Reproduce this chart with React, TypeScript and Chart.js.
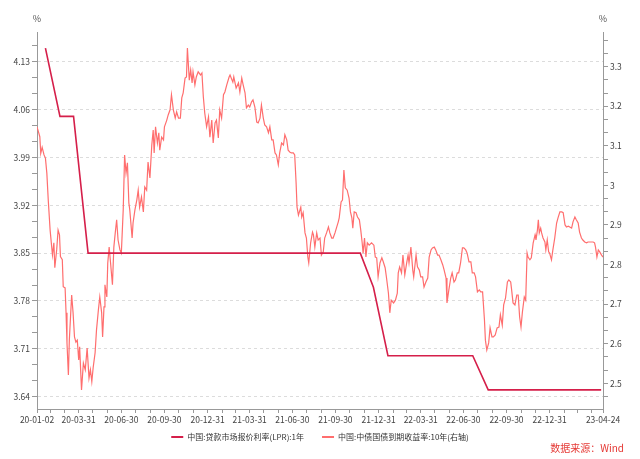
import React, { useEffect, useRef } from "react";
import { Chart, registerables } from "chart.js";

Chart.register(...registerables);

const FONT = '"Noto Sans CJK SC", "Noto Sans", sans-serif';

const START_DATE = "20-01-02";
const END_DATE = "23-04-24";
const SOURCE_TEXT = "数据来源：Wind";
const UNIT = "%";

const LPR_LABEL = "中国:贷款市场报价利率(LPR):1年";
const CGB_LABEL = "中国:中债国债到期收益率:10年(右轴)";
const LPR_COLOR = "#D51F4A";
const CGB_COLOR = "#FF6E6E";

const X_LABEL_DATES = [
  "20-01-02", "20-03-31", "20-06-30", "20-09-30", "20-12-31", "21-03-31", "21-06-30",
  "21-09-30", "21-12-31", "22-03-31", "22-06-30", "22-09-30", "22-12-31", "23-04-24",
];

const LEFT_MAJOR_TICKS = [3.64, 3.71, 3.78, 3.85, 3.92, 3.99, 4.06, 4.13];
const RIGHT_MAJOR_TICKS = [2.5, 2.6, 2.7, 2.8, 2.9, 3.0, 3.1, 3.2, 3.3];
const LEFT_MIN = 3.622;
const LEFT_MAX = 4.1735;
const RIGHT_MIN = 2.435;
const RIGHT_MAX = 3.3876;

const LPR_DATES = [
  "20-01-20", "20-02-20", "20-03-20", "20-04-20", "20-05-20", "20-06-22", "20-07-20", "20-08-20",
  "20-09-21", "20-10-20", "20-11-20", "20-12-21", "21-01-20", "21-02-20", "21-03-22", "21-04-20",
  "21-05-20", "21-06-21", "21-07-20", "21-08-20", "21-09-22", "21-10-20", "21-11-22", "21-12-20",
  "22-01-20", "22-02-21", "22-03-21", "22-04-20", "22-05-20", "22-06-20", "22-07-20", "22-08-22",
  "22-09-20", "22-10-20", "22-11-21", "22-12-20", "23-01-20", "23-02-20", "23-03-20", "23-04-20",
];
const LPR_VALUES = [
  4.15, 4.05, 4.05, 3.85, 3.85, 3.85, 3.85, 3.85,
  3.85, 3.85, 3.85, 3.85, 3.85, 3.85, 3.85, 3.85,
  3.85, 3.85, 3.85, 3.85, 3.85, 3.85, 3.85, 3.80,
  3.70, 3.70, 3.70, 3.70, 3.70, 3.70, 3.70, 3.65,
  3.65, 3.65, 3.65, 3.65, 3.65, 3.65, 3.65, 3.65,
];

const CGB_DATES = [
  "20-01-02","20-01-05","20-01-08","20-01-10","20-01-13","20-01-17","20-01-20","20-01-23","20-01-26","20-01-30",
  "20-02-02","20-02-04","20-02-07","20-02-09","20-02-13","20-02-16","20-02-19","20-02-21","20-02-25","20-02-27",
  "20-03-02","20-03-04","20-03-06","20-03-09","20-03-11","20-03-14","20-03-16","20-03-19","20-03-22","20-03-25",
  "20-03-28","20-03-31","20-04-02","20-04-06","20-04-10","20-04-14","20-04-18","20-04-22","20-04-25","20-04-28",
  "20-05-01","20-05-05","20-05-08","20-05-12","20-05-15","20-05-19","20-05-21","20-05-24","20-05-26","20-05-30",
  "20-06-01","20-06-04","20-06-07","20-06-11","20-06-14","20-06-17","20-06-20","20-06-23","20-06-27","20-06-30",
  "20-07-04","20-07-07","20-07-10","20-07-13","20-07-16","20-07-18","20-07-23","20-07-25","20-07-29","20-08-02",
  "20-08-05","20-08-08","20-08-12","20-08-16","20-08-19","20-08-23","20-08-26","20-08-30","20-09-03","20-09-06",
  "20-09-08","20-09-11","20-09-15","20-09-18","20-09-20","20-09-24","20-09-28","20-09-30","20-10-05","20-10-08",
  "20-10-12","20-10-15","20-10-19","20-10-23","20-10-26","20-10-30","20-11-03","20-11-06","20-11-09","20-11-13",
  "20-11-16","20-11-18","20-11-22","20-11-25","20-11-28","20-11-30","20-12-04","20-12-07","20-12-11","20-12-16",
  "20-12-19","20-12-22","20-12-25","20-12-29","21-01-02","21-01-05","21-01-09","21-01-12","21-01-16","21-01-19",
  "21-01-23","21-01-26","21-01-30","21-02-03","21-02-06","21-02-10","21-02-15","21-02-17","21-02-23","21-02-25",
  "21-03-02","21-03-07","21-03-10","21-03-14","21-03-17","21-03-21","21-03-24","21-03-28","21-03-31","21-04-04",
  "21-04-07","21-04-11","21-04-15","21-04-18","21-04-22","21-04-25","21-04-29","21-05-02","21-05-06","21-05-10",
  "21-05-13","21-05-17","21-05-20","21-05-24","21-05-27","21-05-31","21-06-03","21-06-07","21-06-11","21-06-14",
  "21-06-18","21-06-21","21-06-25","21-06-28","21-07-02","21-07-05","21-07-08","21-07-10","21-07-13","21-07-18",
  "21-07-20","21-07-23","21-07-27","21-07-30","21-08-02","21-08-04","21-08-08","21-08-12","21-08-14","21-08-17",
  "21-08-21","21-08-24","21-08-28","21-08-31","21-09-04","21-09-07","21-09-11","21-09-15","21-09-18","21-09-22",
  "21-09-25","21-09-29","21-10-02","21-10-06","21-10-08","21-10-12","21-10-15","21-10-18","21-10-21","21-10-25",
  "21-10-29","21-11-01","21-11-04","21-11-06","21-11-09","21-11-13","21-11-16","21-11-20","21-11-23","21-11-26",
  "21-11-28","21-12-01","21-12-04","21-12-07","21-12-11","21-12-16","21-12-21","21-12-24","21-12-27","21-12-30",
  "22-01-03","22-01-07","22-01-10","22-01-14","22-01-17","22-01-21","22-01-24","22-01-27","22-02-01","22-02-05",
  "22-02-09","22-02-11","22-02-14","22-02-18","22-02-21","22-02-25","22-03-01","22-03-04","22-03-06","22-03-10",
  "22-03-14","22-03-16","22-03-21","22-03-24","22-03-28","22-03-31","22-04-04","22-04-07","22-04-11","22-04-15",
  "22-04-18","22-04-22","22-04-25","22-04-29","22-05-02","22-05-06","22-05-09","22-05-13","22-05-17","22-05-20",
  "22-05-24","22-05-26","22-05-30","22-06-03","22-06-06","22-06-10","22-06-13","22-06-17","22-06-20","22-06-24",
  "22-06-28","22-07-01","22-07-05","22-07-08","22-07-12","22-07-16","22-07-19","22-07-23","22-07-26","22-07-30",
  "22-08-03","22-08-06","22-08-10","22-08-14","22-08-16","22-08-19","22-08-23","22-08-26","22-08-30","22-09-02",
  "22-09-06","22-09-10","22-09-14","22-09-17","22-09-21","22-09-24","22-09-28","22-10-02","22-10-05","22-10-09",
  "22-10-11","22-10-14","22-10-18","22-10-22","22-10-25","22-10-28","22-10-31","22-11-03","22-11-07","22-11-10",
  "22-11-13","22-11-15","22-11-19","22-11-22","22-11-26","22-11-30","22-12-02","22-12-05","22-12-07","22-12-09",
  "22-12-12","22-12-14","22-12-17","22-12-21","22-12-23","22-12-26","22-12-29","22-12-31","23-01-04","23-01-07",
  "23-01-11","23-01-15","23-01-18","23-01-22","23-01-26","23-01-29","23-02-02","23-02-05","23-02-09","23-02-12",
  "23-02-16","23-02-19","23-02-23","23-02-26","23-03-02","23-03-05","23-03-09","23-03-12","23-03-16","23-03-20",
  "23-03-23","23-03-27","23-03-31","23-04-03","23-04-06","23-04-08","23-04-11","23-04-14","23-04-17","23-04-21",
  "23-04-24",
];
const CGB_VALUES = [
  3.148,3.136,3.123,3.081,3.096,3.077,3.069,3.031,2.963,2.887,
  2.849,2.824,2.855,2.792,2.837,2.887,2.875,2.820,2.812,2.744,
  2.741,2.678,2.602,2.521,2.609,2.678,2.723,2.678,2.617,2.604,
  2.609,2.559,2.592,2.483,2.551,2.534,2.589,2.513,2.534,2.504,
  2.541,2.577,2.635,2.685,2.718,2.678,2.617,2.693,2.749,2.718,
  2.804,2.844,2.804,2.749,2.844,2.880,2.913,2.862,2.837,2.829,
  2.938,3.077,3.031,3.057,2.956,2.938,2.867,2.905,2.938,2.963,
  2.988,2.945,2.971,2.933,2.996,2.988,3.059,3.019,3.102,3.140,
  3.082,3.148,3.107,3.133,3.089,3.122,3.115,3.148,3.165,3.178,
  3.191,3.229,3.191,3.170,3.186,3.170,3.170,3.221,3.234,3.271,
  3.274,3.347,3.266,3.292,3.259,3.287,3.254,3.274,3.287,3.279,
  3.284,3.224,3.183,3.148,3.173,3.122,3.165,3.107,3.158,3.165,
  3.120,3.191,3.170,3.229,3.236,3.254,3.274,3.279,3.261,3.274,
  3.246,3.259,3.236,3.271,3.254,3.234,3.196,3.203,3.198,3.211,
  3.216,3.198,3.160,3.158,3.170,3.203,3.170,3.153,3.148,3.133,
  3.148,3.115,3.115,3.082,3.077,3.052,3.082,3.107,3.102,3.128,
  3.115,3.089,3.084,3.082,3.082,3.077,3.006,2.945,2.925,2.945,
  2.920,2.931,2.880,2.867,2.819,2.804,2.855,2.882,2.875,2.844,
  2.880,2.862,2.867,2.824,2.832,2.867,2.880,2.895,2.880,2.867,
  2.867,2.880,2.892,2.908,2.918,2.958,2.963,3.039,2.994,2.988,
  2.968,2.933,2.918,2.892,2.933,2.931,2.920,2.913,2.887,2.855,
  2.829,2.867,2.819,2.855,2.849,2.855,2.849,2.819,2.817,2.769,
  2.804,2.817,2.807,2.792,2.766,2.728,2.678,2.710,2.703,2.710,
  2.728,2.779,2.794,2.779,2.824,2.774,2.804,2.824,2.804,2.844,
  2.786,2.769,2.824,2.794,2.786,2.769,2.769,2.743,2.756,2.766,
  2.819,2.837,2.842,2.844,2.837,2.824,2.824,2.812,2.799,2.786,
  2.766,2.703,2.736,2.766,2.779,2.756,2.761,2.779,2.779,2.804,
  2.842,2.842,2.837,2.829,2.807,2.807,2.779,2.779,2.769,2.731,
  2.736,2.731,2.731,2.660,2.609,2.584,2.602,2.640,2.617,2.617,
  2.622,2.640,2.642,2.673,2.647,2.698,2.716,2.756,2.761,2.756,
  2.736,2.703,2.698,2.723,2.723,2.668,2.642,2.680,2.718,2.710,
  2.829,2.819,2.812,2.817,2.855,2.875,2.862,2.887,2.913,2.880,
  2.892,2.880,2.867,2.857,2.837,2.862,2.832,2.829,2.812,2.837,
  2.867,2.905,2.918,2.933,2.933,2.931,2.900,2.895,2.897,2.895,
  2.892,2.908,2.920,2.913,2.905,2.882,2.867,2.862,2.857,2.855,
  2.857,2.857,2.857,2.857,2.855,2.844,2.819,2.837,2.832,2.824,
  2.819,
];

function parseYMD(s: string) {
  const [y, m, d] = s.split("-").map(Number);
  return Date.UTC(2000 + y, m - 1, d);
}
const BASE_MS = parseYMD(START_DATE);
function dayIndex(s: string) {
  return Math.round((parseYMD(s) - BASE_MS) / 86400000);
}

function buildXTicks() {
  const end = dayIndex(END_DATE);
  const set = new Set<number>([0, end]);
  for (let y = 2020; y <= 2023; y++) {
    for (let m = 0; m < 12; m++) {
      const d = Math.round((Date.UTC(y, m + 1, 0) - BASE_MS) / 86400000);
      if (d > 0 && d < end) set.add(d);
    }
  }
  return Array.from(set).sort((a, b) => a - b);
}

function buildYTicks(first: number, step: number, min: number, max: number) {
  const out: { value: number; major: boolean }[] = [];
  for (let k = -6; k < 60; k++) {
    const v = first + (k * step) / 3;
    if (v >= min - 1e-9 && v <= max + 1e-9) out.push({ value: v, major: k % 3 === 0 });
  }
  return out;
}

const overlayPlugin = {
  id: "overlay",
  afterDraw(chart: any) {
    const { ctx, chartArea, scales } = chart;
    ctx.save();
    ctx.textBaseline = "middle";
    ctx.font = `9px ${FONT}`;
    ctx.fillStyle = "#555";
    ctx.textAlign = "center";
    ctx.fillText(UNIT, scales.yL.right, chartArea.top - 13);
    ctx.fillText(UNIT, scales.yR.left, chartArea.top - 13);

    ctx.font = `8px ${FONT}`;
    const items = chart.data.datasets.map((ds: any) => ({ text: ds.label, color: ds.borderColor }));
    const boxW = 12, gapTxt = 4, gapItem = 18;
    const widths = items.map((it: any) => boxW + gapTxt + ctx.measureText(it.text).width);
    const total = widths.reduce((a: number, b: number) => a + b, 0) + gapItem * (items.length - 1);
    let x = (chart.width - total) / 2;
    const y = 437;
    items.forEach((it: any, i: number) => {
      ctx.fillStyle = it.color;
      ctx.fillRect(x, y - 1, boxW, 2);
      ctx.fillStyle = "#333";
      ctx.textAlign = "left";
      ctx.fillText(it.text, x + boxW + gapTxt, y);
      x += widths[i] + gapItem;
    });

    ctx.font = `10px ${FONT}`;
    ctx.fillStyle = "#E53935";
    ctx.textAlign = "right";
    ctx.fillText(SOURCE_TEXT, 624, 448);
    ctx.restore();
  },
};

export default function App() {
  const canvasRef = useRef<HTMLCanvasElement>(null);

  useEffect(() => {
    if (!canvasRef.current) return;
    const xTicks = buildXTicks();
    const labelDays = new Map(X_LABEL_DATES.map((d) => [dayIndex(d), d]));
    const leftTicks = buildYTicks(LEFT_MAJOR_TICKS[0], 0.07, LEFT_MIN, LEFT_MAX);
    const rightTicks = buildYTicks(RIGHT_MAJOR_TICKS[0], 0.1, RIGHT_MIN, RIGHT_MAX);
    const isMajor = (list: { value: number; major: boolean }[], v: number) =>
      list.some((t) => t.major && Math.abs(t.value - v) < 1e-6);

    const tickFont = { family: FONT, size: 8.5 };

    const chart = new Chart(canvasRef.current, {
      type: "line",
      data: {
        datasets: [
          {
            label: LPR_LABEL,
            data: LPR_DATES.map((d, i) => ({ x: dayIndex(d), y: LPR_VALUES[i] })),
            yAxisID: "yL",
            borderColor: LPR_COLOR,
            backgroundColor: LPR_COLOR,
            borderWidth: 1.6,
            pointRadius: 0,
            tension: 0,
          },
          {
            label: CGB_LABEL,
            data: CGB_DATES.map((d, i) => ({ x: dayIndex(d), y: CGB_VALUES[i] })),
            yAxisID: "yR",
            borderColor: CGB_COLOR,
            backgroundColor: CGB_COLOR,
            borderWidth: 1.2,
            pointRadius: 0,
            tension: 0,
          },
        ],
      },
      options: {
        responsive: false,
        animation: false,
        layout: { padding: { top: 32, left: 0, right: 0, bottom: 0 } },
        plugins: { legend: { display: false }, tooltip: { enabled: false } },
        scales: {
          x: {
            type: "linear",
            min: 0,
            max: dayIndex(END_DATE),
            afterBuildTicks: (scale: any) => {
              scale.ticks = xTicks.map((v) => ({ value: v }));
            },
            afterFit: (scale: any) => {
              scale.height = 50;
            },
            ticks: {
              autoSkip: false,
              maxRotation: 0,
              minRotation: 0,
              padding: 2,
              color: "#444",
              font: tickFont,
              callback: (v: any) => {
                const s = labelDays.get(Math.round(Number(v)));
                return s ? s : "";
              },
            },
            grid: { drawOnChartArea: false, tickColor: "#999", tickLength: 4 },
            border: { color: "#999", width: 1 },
          },
          yL: {
            type: "linear",
            position: "left",
            min: LEFT_MIN,
            max: LEFT_MAX,
            afterBuildTicks: (scale: any) => {
              scale.ticks = leftTicks.map((t) => ({ value: t.value }));
            },
            afterFit: (scale: any) => {
              scale.width = 37;
            },
            ticks: {
              autoSkip: false,
              padding: 2,
              color: "#444",
              font: tickFont,
              callback: (v: any) => (isMajor(leftTicks, Number(v)) ? Number(v).toFixed(2) : ""),
            },
            grid: {
              color: (ctx: any) =>
                ctx.tick && isMajor(leftTicks, ctx.tick.value) ? "#dcdcdc" : "rgba(0,0,0,0)",
              tickColor: "#999",
              tickLength: 5,
            },
            border: { color: "#999", width: 1, dash: [3, 3] },
          },
          yR: {
            type: "linear",
            position: "right",
            min: RIGHT_MIN,
            max: RIGHT_MAX,
            afterBuildTicks: (scale: any) => {
              scale.ticks = rightTicks.map((t) => ({ value: t.value }));
            },
            afterFit: (scale: any) => {
              scale.width = 37;
            },
            ticks: {
              autoSkip: false,
              padding: 2,
              color: "#444",
              font: tickFont,
              callback: (v: any) =>
                isMajor(rightTicks, Number(v)) ? String(Number(Number(v).toFixed(1))) : "",
            },
            grid: { drawOnChartArea: false, tickColor: "#999", tickLength: 5 },
            border: { color: "#999", width: 1 },
          },
        },
      },
      plugins: [overlayPlugin],
    } as any);

    return () => chart.destroy();
  }, []);

  return (
    <div style={{ position: "absolute", left: 0, top: 0, width: 640, height: 459, background: "#fff" }}>
      <canvas ref={canvasRef} width={640} height={459} style={{ display: "block" }} />
    </div>
  );
}
